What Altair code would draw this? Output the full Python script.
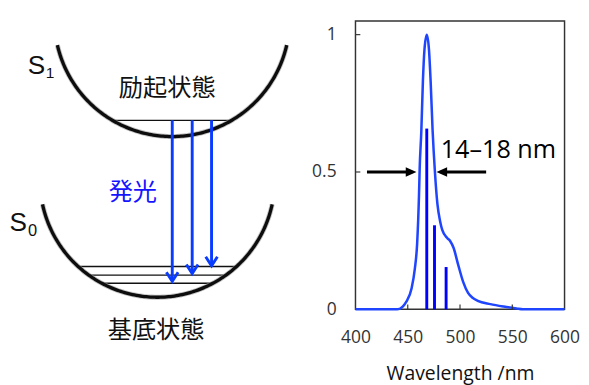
import altair as alt
import numpy as np
import pandas as pd

# ---------------- spectrum (right panel) ----------------
wl = [400, 440, 449, 453.7, 456.8, 459, 460.8, 461.4, 463, 464.5, 466, 468.2,
      470.3, 471.9, 473.8, 476, 478.4, 481, 483, 487.7, 490.7, 493.8, 498.4,
      503, 507.7, 512, 517, 529, 541.7, 554, 560, 600]
intensity = [0, 0, 0.03, 0.077, 0.148, 0.24, 0.42, 0.51, 0.65, 0.83, 0.946, 1.0,
             0.946, 0.83, 0.65, 0.5, 0.383, 0.32, 0.289, 0.26, 0.248, 0.224, 0.16,
             0.10, 0.06, 0.042, 0.031, 0.019, 0.01, 0.003, 0, 0]

line_wl = [468.2, 475.6, 486.7]
line_int = [0.658, 0.306, 0.154]

fwhm_tail = [411, 525]
fwhm_tip = [458.3, 477.5]
fwhm_level = 0.5
fwhm_label = "14–18 nm"
fwhm_label_pos = (481.5, 0.58)

x_ticks = [400, 450, 500, 550, 600]
y_ticks = [0, 0.5, 1]

# ---------------- energy diagram (left panel) ----------------
well_names = ["S1", "S0"]
well_cx = [176.5, 161.3]
well_cy = [12.0, 178.2]
well_r = [121.5, 121.3]
well_top = [39.0, 203.5]
well_levels = [[116.7], [267.7, 276.7, 285.0]]

emit_x = [176.7, 197.3, 217.3]
emit_from = [116.7, 116.7, 116.7]
emit_to = [283.0, 275.0, 267.0]

latin_text = ["S", "1", "S", "0"]
latin_x = [36.5, 50.5, 17.5, 32.5]
latin_y = [60.5, 67.5, 223.5, 231.5]
latin_size = [27, 16, 27, 17]

cjk_text = ["励起状態", "発光", "基底状態"]
cjk_x = [171.5, 136, 160]
cjk_y = [83.5, 191, 333.5]
cjk_color = ["#111111", "#1414ff", "#111111"]

BLUE_ARROW = "#0a3cff"
BLUE_CURVE = "#1f45ff"
BLUE_BAR = "#0000ff"

# ---- build left-panel tables ----
arc_rows = []
for name, cx, cy, r, top in zip(well_names, well_cx, well_cy, well_r, well_top):
    a0 = np.arcsin((top - cy) / r)
    for i, t in enumerate(np.linspace(a0, np.pi - a0, 160)):
        arc_rows.append({"well": name, "i": i, "x": cx + r * np.cos(t), "y": cy + r * np.sin(t)})
arc_df = pd.DataFrame(arc_rows)

lvl_rows = []
for cx, cy, r, levels in zip(well_cx, well_cy, well_r, well_levels):
    for yv in levels:
        dx = float(np.sqrt(r ** 2 - (yv - cy) ** 2))
        lvl_rows.append({"x": cx - dx, "x2": cx + dx, "y": yv})
lvl_df = pd.DataFrame(lvl_rows)

emit_df = pd.DataFrame({"x": emit_x, "y": emit_from, "y2": [t - 1 for t in emit_to], "tip": emit_to})
latin_df = pd.DataFrame({"t": latin_text, "x": latin_x, "y": latin_y, "fs": latin_size})
cjk_df = pd.DataFrame({"t": cjk_text, "x": cjk_x, "y": cjk_y, "c": cjk_color})

LX = alt.Scale(domain=[8, 298], nice=False, zero=False)
LY = alt.Scale(domain=[14, 354], nice=False, zero=False, reverse=True)


def lx(f):
    return alt.X(f, type="quantitative", scale=LX, axis=None)


def ly(f):
    return alt.Y(f, type="quantitative", scale=LY, axis=None)


arc_halo = alt.Chart(arc_df).mark_line(color="#9a9a9a", strokeWidth=5.2, strokeCap="butt",
                                       opacity=0.6).encode(
    x=lx("x"), y=ly("y"), detail="well:N", order="i:Q")
arcs = alt.Chart(arc_df).mark_line(color="#0d0d0d", strokeWidth=3.4, strokeCap="butt").encode(
    x=lx("x"), y=ly("y"), detail="well:N", order="i:Q")
levels = alt.Chart(lvl_df).mark_rule(color="#111111", strokeWidth=1.4).encode(
    x=lx("x"), x2="x2", y=ly("y"))
emit_lines = alt.Chart(emit_df).mark_rule(color=BLUE_ARROW, strokeWidth=3).encode(
    x=lx("x"), y=ly("y"), y2="y2")
emit_heads = alt.Chart(emit_df).mark_point(
    shape="M-0.65,-1L0,0L0.65,-1", filled=False, color=BLUE_ARROW, strokeWidth=3,
    size=346, opacity=1).encode(x=lx("x"), y=ly("tip"))
latin = alt.Chart(latin_df).mark_text(font="Liberation Sans", color="#111111",
                                      align="center", baseline="middle").encode(
    x=lx("x"), y=ly("y"), text="t:N", size=alt.Size("fs:Q", scale=None))
cjk = alt.Chart(cjk_df).mark_text(font="Noto Sans CJK JP", fontSize=25,
                                  align="center", baseline="middle").encode(
    x=lx("x"), y=ly("y"), text="t:N", color=alt.Color("c:N", scale=None))

left = alt.layer(levels, arc_halo, arcs, emit_lines, emit_heads, latin, cjk).properties(
    width=290, height=340, view=alt.ViewBackground(stroke="transparent"))

# ---- build right-panel tables ----
spec_df = pd.DataFrame({"wl": wl, "v": intensity})
bar_df = pd.DataFrame({"wl": line_wl, "v": line_int})
arrow_df = pd.DataFrame({
    "wl": fwhm_tail,
    "wl2": [fwhm_tip[0] - 4, fwhm_tip[1] + 4],
    "v": [fwhm_level, fwhm_level]})
head_df = pd.DataFrame({
    "wl": fwhm_tip, "v": [fwhm_level, fwhm_level],
    "shape": ["M0,0L-2,-0.9L-2,0.9Z", "M0,0L2,-0.9L2,0.9Z"]})
label_df = pd.DataFrame({"wl": [fwhm_label_pos[0]], "v": [fwhm_label_pos[1]], "t": [fwhm_label]})
xtick_df = pd.DataFrame({"wl": x_ticks[1:-1]})
ytick_df = pd.DataFrame({"v": y_ticks[1:]})

RX = alt.Scale(domain=[400, 600], nice=False, zero=False)
RY = alt.Scale(domain=[0, 1.05], nice=False, zero=True)
x_axis = alt.Axis(values=x_ticks, title="Wavelength /nm", ticks=False, domain=False,
                  grid=False, labelPadding=20, titlePadding=18, labelFontSize=18,
                  titleFontSize=20, titleFontWeight="normal", labelColor="#333333",
                  titleColor="#111111", labelFont="Open Sans", titleFont="Open Sans",
                  labelFlush=False, labelOverlap=False, format="d")
y_axis = alt.Axis(values=y_ticks, title=None, ticks=False, domain=False, grid=False,
                  labelPadding=20, labelFontSize=18, labelColor="#333333",
                  labelFont="Open Sans", labelFlush=False, labelOverlap=False, format="~g")


def rx(f="wl"):
    return alt.X(f, type="quantitative", scale=RX, axis=x_axis)


def ry(f="v"):
    return alt.Y(f, type="quantitative", scale=RY, axis=y_axis)


curve = alt.Chart(spec_df).mark_line(color=BLUE_CURVE, strokeWidth=2.6,
                                     interpolate="monotone").encode(x=rx(), y=ry())
bars = alt.Chart(bar_df).mark_rule(color=BLUE_BAR, strokeWidth=3).encode(
    x=rx(), y=ry(), y2=alt.datum(0))
arrows = alt.Chart(arrow_df).mark_rule(color="#000000", strokeWidth=3).encode(
    x=rx(), x2="wl2", y=ry())
heads = alt.Chart(head_df).mark_point(filled=True, color="#000000", size=121,
                                      opacity=1).encode(
    x=rx(), y=ry(), shape=alt.Shape("shape:N", scale=None))
label = alt.Chart(label_df).mark_text(font="Open Sans", fontSize=26, color="#000000",
                                      align="left", baseline="middle").encode(
    x=rx(), y=ry(), text="t:N")
xticks = alt.Chart(xtick_df).mark_rule(color="#333333", strokeWidth=1.2).encode(
    x=rx(), y=alt.value(298), y2=alt.value(293))
yticks = alt.Chart(ytick_df).mark_rule(color="#333333", strokeWidth=1.2).encode(
    y=ry(), x=alt.value(0), x2=alt.value(5))

right = alt.layer(curve, bars, xticks, yticks, arrows, heads, label).properties(
    width=216, height=298, view=alt.ViewBackground(stroke="#333333", strokeWidth=1.5))

chart = alt.hconcat(left, right, spacing=13).properties(
    padding={"left": 0, "top": 6, "right": 0, "bottom": 0}
).configure_view(stroke=None)

chart.save("out.html", embed_options={"renderer": "svg", "actions": False})
